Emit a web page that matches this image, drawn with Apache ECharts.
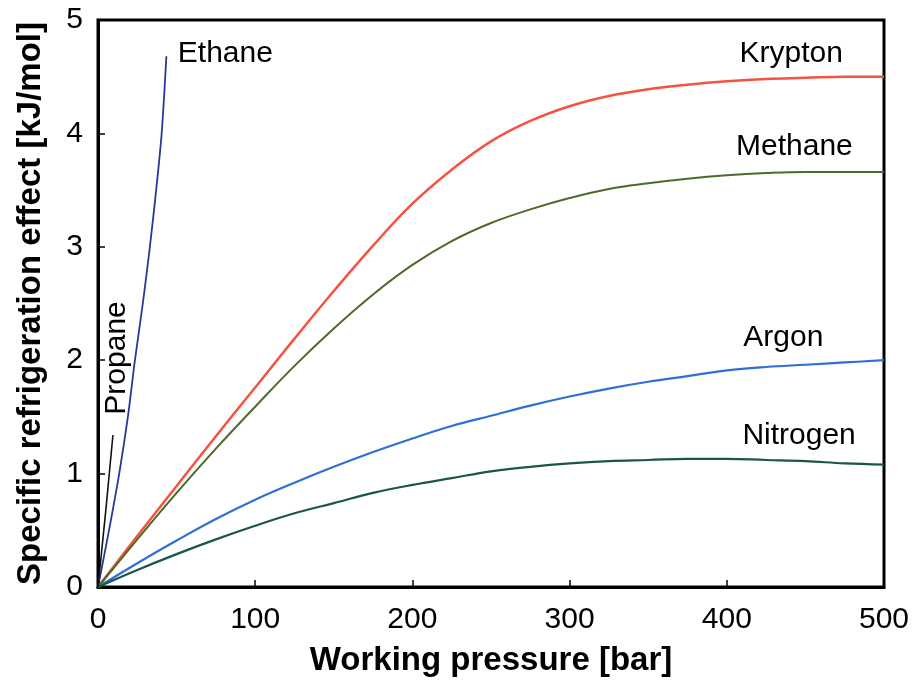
<!DOCTYPE html>
<html>
<head>
<meta charset="utf-8">
<script src="https://cdn.jsdelivr.net/npm/echarts@6/dist/echarts.min.js"></script>
<style>
  html, body { margin: 0; padding: 0; background: #fff; }
  #chart { width: 913px; height: 696px; }
</style>
</head>
<body>
<div id="chart"></div>
<script>
// Working pressure grid (bar) shared by the four gas curves
const pressure = [0, 25, 50, 75, 100, 125, 150, 175, 200, 225, 250, 275, 300, 325, 350, 375, 400, 425, 450, 475, 500];

// Specific refrigeration effect (kJ/mol)
const krypton  = [0, 0.45, 0.89, 1.33, 1.76, 2.19, 2.61, 3.01, 3.38, 3.68, 3.93, 4.11, 4.24, 4.33, 4.39, 4.43, 4.46, 4.48, 4.49, 4.50, 4.50];
const methane  = [0, 0.42, 0.83, 1.22, 1.59, 1.95, 2.28, 2.58, 2.84, 3.05, 3.21, 3.33, 3.43, 3.51, 3.56, 3.60, 3.63, 3.65, 3.66, 3.66, 3.66];
const argon    = [0, 0.21, 0.41, 0.60, 0.77, 0.92, 1.06, 1.19, 1.31, 1.42, 1.51, 1.60, 1.68, 1.75, 1.81, 1.86, 1.91, 1.94, 1.96, 1.98, 2.00];
const nitrogen = [0, 0.15, 0.29, 0.42, 0.54, 0.65, 0.74, 0.83, 0.90, 0.96, 1.02, 1.06, 1.09, 1.11, 1.12, 1.13, 1.13, 1.12, 1.11, 1.09, 1.08];

// Ethane and propane only cover low pressures
const ethaneP = [0, 7, 13.5, 19, 23.5, 28.5, 33, 37, 40.5, 43.5];
const ethaneE = [0, 0.5, 1.0, 1.5, 2.0, 2.5, 3.0, 3.5, 4.0, 4.68];
const propaneP = [0, 5, 9.5];
const propaneE = [0, 0.68, 1.34];

// Axis ticks
const xTicks = [0, 100, 200, 300, 400, 500];
const yTicks = [0, 1, 2, 3, 4, 5];

// Curve name labels: [pressure, effect] anchor and rotation
const labelAt = {
  Ethane:   [81, 4.70, 0],
  Propane:  [12, 2.02, 90],
  Krypton:  [441, 4.70, 0],
  Methane:  [443, 3.88, 0],
  Argon:    [436, 2.20, 0],
  Nitrogen: [446, 1.33, 0]
};

const zip = (xs, ys) => xs.map((x, i) => [x, ys[i]]);
const FONT = '"Liberation Sans", Arial, sans-serif';

function curve(name, xs, ys, color, width, smooth) {
  const at = labelAt[name];
  return {
    name: name,
    type: 'line',
    data: zip(xs, ys),
    showSymbol: false,
    smooth: smooth,
    lineStyle: { color: color, width: width },
    silent: true,
    z: 3,
    markPoint: {
      symbol: 'circle',
      symbolSize: 0,
      silent: true,
      data: [{ coord: [at[0], at[1]] }],
      label: {
        show: true,
        position: 'inside',
        formatter: name,
        rotate: at[2],
        fontFamily: FONT,
        fontSize: 30,
        color: '#000'
      }
    }
  };
}

const chart = echarts.init(document.getElementById('chart'), null, { renderer: 'canvas' });

chart.setOption({
  animation: false,
  backgroundColor: '#fff',
  grid: {
    left: 98, right: 29, top: 20, bottom: 109,
    show: true, borderColor: '#000', borderWidth: 3, backgroundColor: 'transparent'
  },
  xAxis: {
    type: 'value',
    min: xTicks[0], max: xTicks[xTicks.length - 1], interval: 100,
    name: 'Working pressure [bar]',
    nameLocation: 'middle',
    nameGap: 57,
    nameTextStyle: { fontFamily: FONT, fontSize: 33, fontWeight: 'bold', color: '#000' },
    axisLine: { show: true, lineStyle: { color: '#000', width: 3 } },
    axisTick: { show: true, inside: true, length: 7, lineStyle: { color: '#000', width: 1.5 } },
    axisLabel: { fontFamily: FONT, fontSize: 30, color: '#000', margin: 18 },
    splitLine: { show: false }
  },
  yAxis: {
    type: 'value',
    min: yTicks[0], max: yTicks[yTicks.length - 1], interval: 1,
    name: 'Specific refrigeration effect [kJ/mol]',
    nameLocation: 'middle',
    nameGap: 51,
    nameTextStyle: { fontFamily: FONT, fontSize: 33, fontWeight: 'bold', color: '#000' },
    axisLine: { show: true, lineStyle: { color: '#000', width: 3 } },
    axisTick: { show: true, inside: true, length: 7, lineStyle: { color: '#000', width: 1.5 } },
    axisLabel: { fontFamily: FONT, fontSize: 30, color: '#000', margin: 15 },
    splitLine: { show: false }
  },
  series: [
    curve('Krypton', pressure, krypton, '#f5533f', 2.5, 0.4),
    curve('Methane', pressure, methane, '#4d6a2c', 2, 0.4),
    curve('Argon', pressure, argon, '#2f6fd6', 2.2, 0.4),
    curve('Nitrogen', pressure, nitrogen, '#1b5744', 2.2, 0.4),
    curve('Ethane', ethaneP, ethaneE, '#27389a', 1.8, 0.3),
    curve('Propane', propaneP, propaneE, '#111111', 1.6, 0)
  ]
});
</script>
</body>
</html>
